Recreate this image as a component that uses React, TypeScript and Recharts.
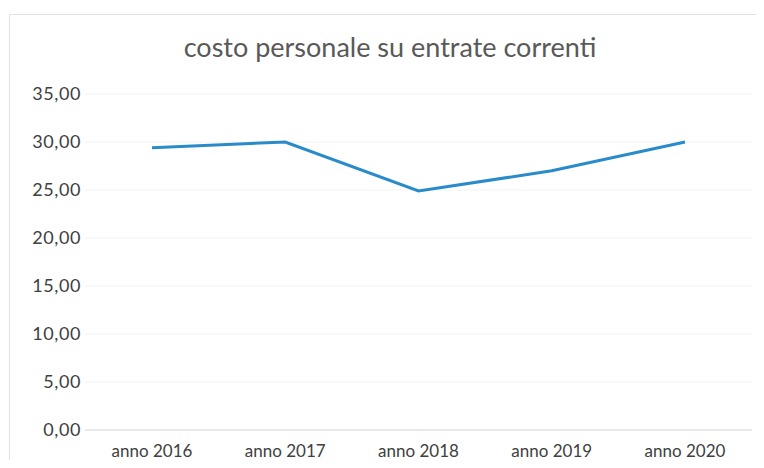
import { LineChart, Line, XAxis, YAxis, CartesianGrid } from 'recharts';

const years = ['anno 2016', 'anno 2017', 'anno 2018', 'anno 2019', 'anno 2020'];
const costo = [29.4, 30.0, 24.9, 27.0, 30.0];
const yTicks = [0, 5, 10, 15, 20, 25, 30, 35];

const data = years.map((year, i) => ({ year, costo: costo[i] }));

const fmt = (v: number) => v.toFixed(2).replace('.', ',');

export default function App() {
  return (
    <div style={{ position: 'relative', width: 764, height: 468, margin: -8, background: '#fff', overflow: 'hidden', fontFamily: 'Lato, "Open Sans", sans-serif' }}>
      <div style={{ position: 'absolute', left: 9, top: 14, width: 748, height: 470, border: '1px solid #e2e2e2' }} />
      <div style={{ position: 'absolute', left: 0, width: 780, top: 30, textAlign: 'center', fontSize: 27, color: '#595959' }}>
        costo personale su entrate correnti
      </div>
      <div style={{ position: 'absolute', left: 0, top: 0 }}>
        <LineChart width={764} height={468} data={data} margin={{ top: 94, right: 12, bottom: 8, left: 10 }}>
          <CartesianGrid stroke="#f2f2f2" vertical={false} />
          <XAxis
            dataKey="year"
            stroke="#d9d9d9"
            padding={{ left: 67, right: 67 }}
            tickLine={false}
            tickSize={0}
            tickMargin={15}
            height={30}
            tick={{ fill: '#404040', fontSize: 17 }}
          />
          <YAxis
            domain={[0, 35]}
            ticks={yTicks}
            axisLine={false}
            tickLine={false}
            tickSize={0}
            tickMargin={4}
            width={75}
            tickFormatter={fmt}
            tick={{ fill: '#404040', fontSize: 18, letterSpacing: 0.6 }}
          />
          <Line
            type="linear"
            dataKey="costo"
            stroke="#2a8bcb"
            strokeWidth={3}
            dot={false}
            isAnimationActive={false}
          />
        </LineChart>
      </div>
    </div>
  );
}
